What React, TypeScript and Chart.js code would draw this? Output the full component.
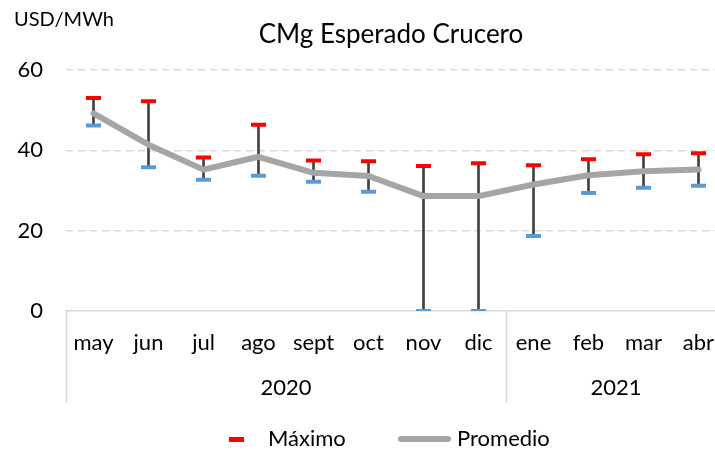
import React, { useEffect, useRef } from "react";
import { Chart, registerables } from "chart.js";

Chart.register(...registerables);

const months = ["may", "jun", "jul", "ago", "sept", "oct", "nov", "dic", "ene", "feb", "mar", "abr"];
const years = ["2020", "2021"];
const yearSpans = [8, 4];
const maximo = [53.0, 52.2, 38.2, 46.4, 37.5, 37.3, 36.1, 36.8, 36.3, 37.8, 39.0, 39.3];
const minimo = [46.2, 35.8, 32.7, 33.7, 32.2, 29.7, 0, 0, 18.7, 29.4, 30.7, 31.2];
const promedio = [49.2, 41.4, 35.2, 38.4, 34.4, 33.6, 28.6, 28.6, 31.5, 33.8, 34.8, 35.2];
const yTicks = [0, 20, 40, 60];

const FONT = "Lato, 'Open Sans', sans-serif";
const TICK_SIZE = 22;
const CW = 760;
const CH = 452;
const AREA_LEFT = 66;
const AREA_RIGHT = 726;
const AREA_TOP = 70;
const AREA_BOTTOM = 311;
const AXIS_BOTTOM = 403;

const yearPlugin = {
  id: "yearGroups",
  afterDraw(chart: any) {
    const ctx = chart.ctx;
    const x = chart.scales.x;
    const top = chart.chartArea.bottom;
    const bottom = top + 92;
    const step = x.getPixelForValue(1) - x.getPixelForValue(0);
    ctx.save();
    ctx.strokeStyle = "#d9d9d9";
    ctx.lineWidth = 1.5;
    let idx = 0;
    const edges: number[] = [];
    yearSpans.forEach((span) => {
      edges.push(x.getPixelForValue(idx) - step / 2);
      idx += span;
    });
    edges.push(x.getPixelForValue(idx - 1) + step / 2);
    edges.forEach((e) => {
      ctx.beginPath();
      ctx.moveTo(Math.round(e) + 0.5, top);
      ctx.lineTo(Math.round(e) + 0.5, bottom);
      ctx.stroke();
    });
    ctx.fillStyle = "#000";
    ctx.font = `${TICK_SIZE}px ${FONT}`;
    ctx.textAlign = "center";
    ctx.textBaseline = "middle";
    idx = 0;
    years.forEach((yr, i) => {
      const a = x.getPixelForValue(idx);
      const b = x.getPixelForValue(idx + yearSpans[i] - 1);
      ctx.fillText(yr, (a + b) / 2, top + 77);
      idx += yearSpans[i];
    });
    ctx.restore();
  },
};

export default function App() {
  const ref = useRef<HTMLCanvasElement>(null);
  useEffect(() => {
    if (!ref.current) return;
    const chart = new Chart(ref.current, {
      type: "bar",
      data: {
        labels: months,
        datasets: [
          {
            type: "bar",
            label: "Rango",
            data: minimo.map((m, i) => [m, maximo[i]]),
            backgroundColor: "#404040",
            barThickness: 2,
            order: 4,
          } as any,
          {
            type: "line",
            label: "Promedio",
            data: promedio,
            borderColor: "#a5a5a5",
            borderWidth: 6,
            borderCapStyle: "round",
            borderJoinStyle: "round",
            pointRadius: 0,
            tension: 0,
            order: 3,
          },
          {
            type: "line",
            label: "Mínimo",
            data: minimo,
            showLine: false,
            pointStyle: "line",
            pointRadius: 7.5,
            pointBorderWidth: 4,
            pointBorderColor: "#5b9bd5",
            pointBackgroundColor: "#5b9bd5",
            order: 2,
          },
          {
            type: "line",
            label: "Máximo",
            data: maximo,
            showLine: false,
            pointStyle: "line",
            pointRadius: 7.5,
            pointBorderWidth: 4,
            pointBorderColor: "#ff0000",
            pointBackgroundColor: "#ff0000",
            order: 1,
          },
        ],
      },
      options: {
        responsive: false,
        animation: false,
        devicePixelRatio: 1,
        layout: { padding: { top: AREA_TOP, left: 0, right: CW - AREA_RIGHT, bottom: CH - AXIS_BOTTOM } },
        plugins: { legend: { display: false }, title: { display: false }, tooltip: { enabled: false } },
        scales: {
          x: {
            offset: true,
            grid: { display: false, drawTicks: false },
            border: { display: true, color: "#d9d9d9", width: 1.5 },
            ticks: { color: "#000", font: { family: FONT, size: TICK_SIZE }, padding: 19, maxRotation: 0, autoSkip: false },
            afterFit: (s: any) => { s.height = AXIS_BOTTOM - AREA_BOTTOM; },
          },
          y: {
            min: 0,
            max: 60,
            afterBuildTicks: (s: any) => { s.ticks = yTicks.map((v) => ({ value: v })); },
            grid: {
              drawTicks: false,
              color: (c: any) => (c.tick && c.tick.value === 0 ? "rgba(0,0,0,0)" : "#d9d9d9"),
              lineWidth: 1.5,
            },
            border: { display: false, dash: [7, 5] },
            ticks: { color: "#000", font: { family: FONT, size: TICK_SIZE }, padding: 23 },
            afterFit: (s: any) => { s.width = AREA_LEFT; },
          },
        },
      },
      plugins: [yearPlugin],
    });
    return () => chart.destroy();
  }, []);

  return (
    <div style={{ position: "fixed", left: 0, top: 0, width: 715, height: 452, overflow: "hidden", background: "#fff", fontFamily: FONT, color: "#000" }}>
      <canvas ref={ref} width={CW} height={CH} style={{ position: "absolute", left: 0, top: 0 }} />
      <div style={{ position: "absolute", left: 14, top: 6, fontSize: 20, lineHeight: "24px", whiteSpace: "nowrap" }}>USD/MWh</div>
      <div style={{ position: "absolute", left: 391, top: 18, transform: "translateX(-50%)", fontSize: 26, lineHeight: "30px", whiteSpace: "nowrap" }}>CMg Esperado Crucero</div>
      <div style={{ position: "absolute", left: 229, top: 437, width: 15, height: 5, background: "#ff0000" }} />
      <div style={{ position: "absolute", left: 268, top: 425, fontSize: TICK_SIZE, lineHeight: "26px", whiteSpace: "nowrap" }}>Máximo</div>
      <div style={{ position: "absolute", left: 398, top: 436, width: 53, height: 6, borderRadius: 3, background: "#a5a5a5" }} />
      <div style={{ position: "absolute", left: 457, top: 425, fontSize: TICK_SIZE, lineHeight: "26px", whiteSpace: "nowrap" }}>Promedio</div>
    </div>
  );
}
